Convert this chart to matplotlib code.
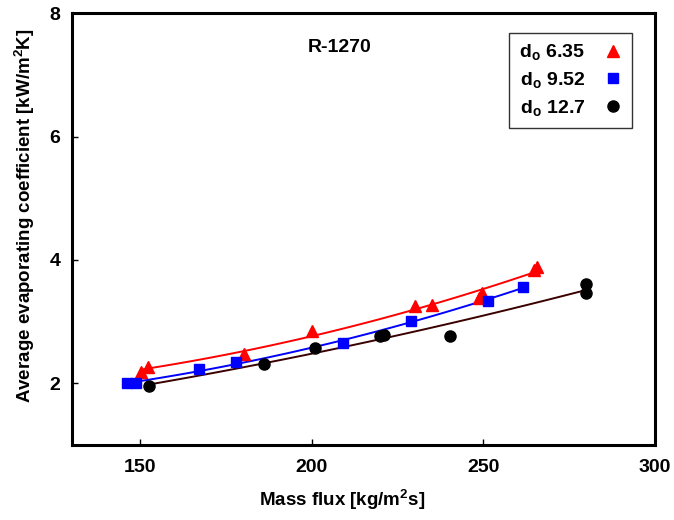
import numpy as np
import matplotlib
matplotlib.use("Agg")
import matplotlib.pyplot as plt

plt.rcParams["font.family"] = ["Liberation Sans", "DejaVu Sans"]
plt.rcParams["font.weight"] = "bold"
plt.rcParams["mathtext.fontset"] = "custom"
plt.rcParams["mathtext.rm"] = "Liberation Sans:bold"
plt.rcParams["mathtext.bf"] = "Liberation Sans:bold"
plt.rcParams["mathtext.it"] = "Liberation Sans:bold"

# data
g_635 = [150.2, 152.1, 180.2, 200.0, 230.0, 235.0, 248.8, 249.6, 264.8, 265.7]
h_635 = [2.19, 2.27, 2.48, 2.85, 3.25, 3.27, 3.38, 3.47, 3.83, 3.89]

g_952 = [146.1, 148.8, 167.1, 178.0, 209.0, 229.0, 251.4, 261.4]
h_952 = [2.00, 2.00, 2.23, 2.35, 2.65, 3.01, 3.34, 3.57]

g_127 = [152.6, 186.0, 201.0, 219.8, 221.0, 240.3, 279.8, 279.8]
h_127 = [1.95, 2.32, 2.58, 2.76, 2.78, 2.77, 3.61, 3.47]

series = [
    (g_635, h_635, "red", "red", "^", 8.5, "d$_{\\rm o}$ 6.35"),
    (g_952, h_952, "blue", "blue", "s", 7.2, "d$_{\\rm o}$ 9.52"),
    (g_127, h_127, "black", "#3a0000", "o", 8, "d$_{\\rm o}$ 12.7"),
]

fig = plt.figure(figsize=(6.74, 5.2), dpi=100)
ax = fig.add_axes([0.1064, 0.1442, 0.8654, 0.8302])

for g, h, c, lc, m, ms, lab in series:
    # quadratic trend line through each data set
    p = np.polyfit(g, h, 2)
    xs = np.linspace(min(g), max(g), 100)
    ax.plot(xs, np.polyval(p, xs), color=lc, lw=1.4, zorder=2)
    ax.plot(g, h, ls="none", marker=m, ms=ms, color=c, mec=c,
            label=lab, zorder=3)

ax.set_xlim(130, 300)
ax.set_ylim(1, 8)
ax.set_xticks([150, 200, 250, 300])
ax.set_yticks([2, 4, 6, 8])
ax.tick_params(direction="in", length=4, width=1, labelsize=14)
ax.tick_params(axis="x", pad=10)
ax.tick_params(axis="y", pad=8)
for s in ax.spines.values():
    s.set_linewidth(2.2)

ax.set_xlabel("Mass flux [kg/m$^{\\rm 2}$s]", fontsize=13.5, fontweight="bold")
ax.set_ylabel("Average evaporating coefficient [kW/m$^{\\rm 2}$K]", fontsize=13.5,
              fontweight="bold")
ax.xaxis.set_label_coords(0.464, -0.100)
ax.yaxis.set_label_coords(-0.060, 0.532)

ax.text(0.46, 0.92, "R-1270", transform=ax.transAxes, ha="center", va="center",
        fontsize=14, fontweight="bold")

leg = ax.legend(loc="upper right", bbox_to_anchor=(0.96, 0.955), markerfirst=False,
                fontsize=14, frameon=True, fancybox=False, edgecolor="black",
                handlelength=0.9, handletextpad=1.0, labelspacing=0.4,
                borderpad=0.5, borderaxespad=0)
leg.get_frame().set_linewidth(1.0)

fig.savefig("out.png", dpi=100)
